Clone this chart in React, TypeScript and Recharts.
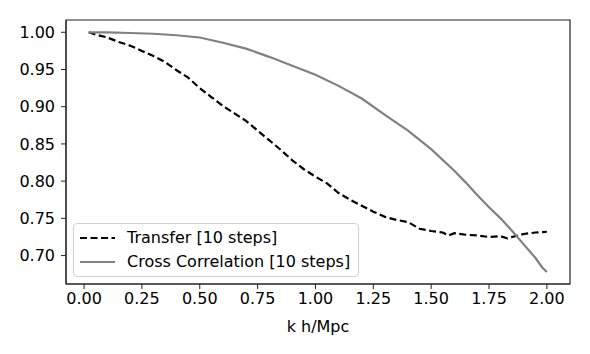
import { Legend, Line, LineChart, ReferenceArea, XAxis, YAxis } from "recharts";

// k h/Mpc
const transferK = [
  0.02, 0.05, 0.1, 0.15, 0.2, 0.25, 0.3, 0.35, 0.4, 0.45, 0.5, 0.55, 0.6, 0.65, 0.7, 0.75, 0.8, 0.85,
  0.9, 0.95, 1.0, 1.05, 1.1, 1.15, 1.2, 1.25, 1.3, 1.35, 1.4, 1.45, 1.5, 1.55, 1.575, 1.6, 1.65, 1.7,
  1.75, 1.8, 1.83, 1.85, 1.9, 1.95, 2.0,
];
const transferV = [
  1.0, 0.997, 0.993, 0.987, 0.982, 0.975, 0.968, 0.96, 0.949, 0.939, 0.925, 0.913, 0.901, 0.891, 0.881,
  0.868, 0.855, 0.842, 0.828, 0.816, 0.806, 0.797, 0.784, 0.775, 0.767, 0.759, 0.752, 0.748, 0.745,
  0.736, 0.733, 0.731, 0.727, 0.73, 0.728, 0.727, 0.725, 0.726, 0.723, 0.725, 0.729, 0.731, 0.732,
];

const crossK = [
  0.02, 0.1, 0.2, 0.3, 0.4, 0.5, 0.6, 0.7, 0.8, 0.9, 1.0, 1.1, 1.2, 1.3, 1.4, 1.5, 1.6, 1.65, 1.7, 1.75,
  1.8, 1.85, 1.9, 1.95, 1.98, 2.0,
];
const crossV = [
  1.0, 1.0, 0.999, 0.998, 0.996, 0.993, 0.986, 0.978, 0.967, 0.955, 0.943, 0.928, 0.911, 0.889, 0.868,
  0.843, 0.814, 0.798, 0.781, 0.765, 0.75, 0.733, 0.715, 0.697, 0.684, 0.678,
];

const xTicks = [0, 0.25, 0.5, 0.75, 1.0, 1.25, 1.5, 1.75, 2.0];
const yTicks = [0.7, 0.75, 0.8, 0.85, 0.9, 0.95, 1.0];

const X_DOMAIN: [number, number] = [-0.078, 2.1];
const Y_DOMAIN: [number, number] = [0.6618, 1.0165];

const transfer = transferK.map((k, i) => ({ k, v: transferV[i] }));
const cross = crossK.map((k, i) => ({ k, v: crossV[i] }));

const font = "'DejaVu Sans', sans-serif";
const tickStyle = { fontSize: 16, fill: "#000", fontFamily: font };

function LegendBox() {
  const rows = [
    { label: "Transfer [10 steps]", color: "#000", dash: "7 3.5", w: 2.2 },
    { label: "Cross Correlation [10 steps]", color: "#808080", dash: undefined, w: 2.2 },
  ];
  return (
    <div
      style={{
        border: "1.2px solid #d0d0d0",
        borderRadius: 4,
        background: "rgba(255,255,255,0.85)",
        padding: "2px 8px 2px 6px",
        fontFamily: font,
        fontSize: 16,
        color: "#000",
        lineHeight: "24px",
      }}
    >
      {rows.map((r) => (
        <div key={r.label} style={{ display: "flex", alignItems: "center", whiteSpace: "nowrap" }}>
          <svg width={36} height={10} style={{ marginRight: 11 }}>
            <line x1={0} y1={5} x2={35} y2={5} stroke={r.color} strokeWidth={r.w} strokeDasharray={r.dash} />
          </svg>
          <span>{r.label}</span>
        </div>
      ))}
    </div>
  );
}

export default function App() {
  return (
    <div style={{ position: "absolute", left: 0, top: 0, width: 590, height: 354, background: "#fff" }}>
      <LineChart width={590} height={354} margin={{ top: 20, right: 20, bottom: 22, left: 4 }}>
        <XAxis
          type="number"
          dataKey="k"
          domain={X_DOMAIN}
          ticks={xTicks}
          allowDataOverflow
          tickFormatter={(v: number) => v.toFixed(2)}
          tick={tickStyle}
          tickSize={5}
          tickMargin={4}
          stroke="#222"
          height={48}
          label={{ value: "k h/Mpc", position: "insideBottom", offset: 0, style: tickStyle }}
        />
        <YAxis
          type="number"
          domain={Y_DOMAIN}
          ticks={yTicks}
          allowDataOverflow
          tickFormatter={(v: number) => v.toFixed(2)}
          tick={tickStyle}
          tickSize={5}
          tickMargin={6}
          stroke="#222"
          width={62}
        />
        <ReferenceArea
          x1={X_DOMAIN[0]}
          x2={X_DOMAIN[1]}
          y1={Y_DOMAIN[0]}
          y2={Y_DOMAIN[1]}
          fill="none"
          stroke="#222"
          strokeWidth={1.2}
          ifOverflow="visible"
        />
        <Line
          data={transfer}
          dataKey="v"
          name="Transfer [10 steps]"
          stroke="#000"
          strokeWidth={2.2}
          strokeDasharray="7 3.5"
          dot={false}
          type="linear"
          isAnimationActive={false}
        />
        <Line
          data={cross}
          dataKey="v"
          name="Cross Correlation [10 steps]"
          stroke="#808080"
          strokeWidth={2.2}
          dot={false}
          type="linear"
          isAnimationActive={false}
        />
        <Legend
          layout="vertical"
          align="center"
          verticalAlign="middle"
          content={() => <LegendBox />}
          wrapperStyle={{ position: "absolute", left: 73, top: 223, width: "auto" }}
        />
      </LineChart>
    </div>
  );
}
